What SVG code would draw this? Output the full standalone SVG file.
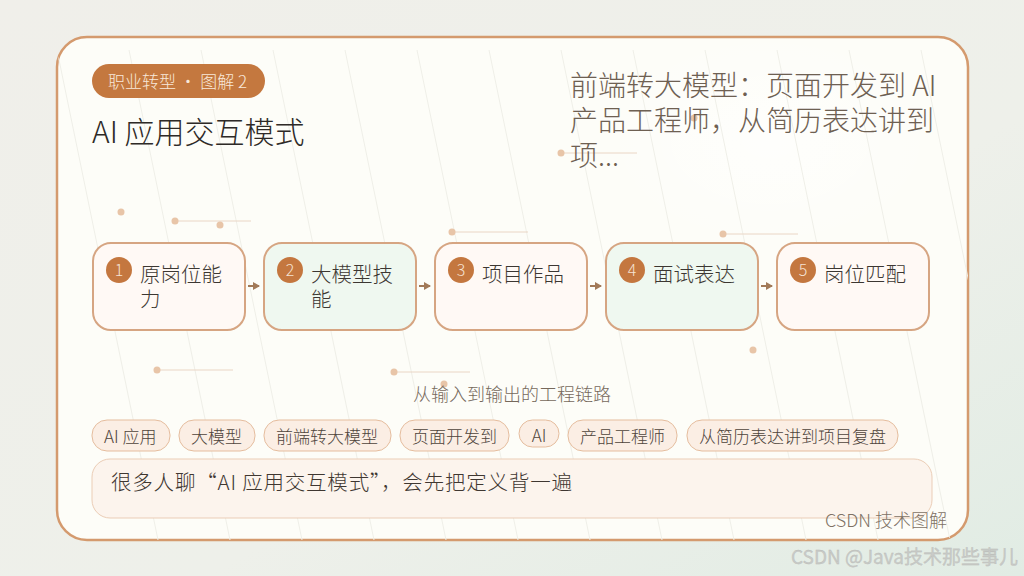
<svg xmlns="http://www.w3.org/2000/svg" width="1024" height="576" viewBox="0 0 1024 576">
<defs>
<linearGradient id="bg" x1="0" y1="0" x2="1" y2="1">
<stop offset="0" stop-color="#F0EFEA"/>
<stop offset="0.6" stop-color="#EEF0EA"/>
<stop offset="1" stop-color="#E1ECE4"/>
</linearGradient>
<radialGradient id="glow" cx="0.5" cy="0.5" r="0.5">
<stop offset="0" stop-color="#FFFFFF" stop-opacity="0.6"/>
<stop offset="1" stop-color="#FFFFFF" stop-opacity="0"/>
</radialGradient>
<clipPath id="cardclip"><rect x="57" y="37" width="911" height="503" rx="30"/></clipPath>
<marker id="arr" markerWidth="8" markerHeight="8" refX="6" refY="4" orient="auto" markerUnits="userSpaceOnUse">
<path d="M0,0 L7,4 L0,8 Z" fill="#A27A58"/>
</marker>
<style>
.cjk{font-family:"Noto Sans CJK SC","Noto Sans",sans-serif;}
.node{stroke:#D6A582;stroke-width:2;}
.warm{fill:#FFF9F5;}
.mint{fill:#EFF8F0;}
.num{fill:#C4773F;}
.numt{fill:#F6E3D3;font-size:16px;text-anchor:middle;font-weight:300;}
.lab{fill:#3C3732;font-size:20.5px;font-weight:300;}
.tag{fill:#FBEEE4;stroke:#E5BD9E;stroke-width:1;}
.tagt{fill:#4E443B;font-size:17px;font-weight:300;}
.dot{fill:#E8C5A8;}
.dl{stroke:#EAD6C5;stroke-width:1;}
.stripe{stroke:#EFEFE8;stroke-width:1;}
.conn{stroke:#A27A58;stroke-width:2;fill:none;}
</style>
</defs>
<rect width="1024" height="576" fill="url(#bg)"/>
<rect x="57" y="37" width="911" height="503" rx="30" fill="#FDFDF8" stroke="#D49A6E" stroke-width="2.5"/>
<g clip-path="url(#cardclip)">
<ellipse cx="770" cy="140" rx="170" ry="110" fill="url(#glow)"/>
<g class="stripe">
<line x1="129" y1="50" x2="230" y2="540"/>
<line x1="201" y1="50" x2="302" y2="540"/>
<line x1="273" y1="50" x2="374" y2="540"/>
<line x1="345" y1="50" x2="446" y2="540"/>
<line x1="417" y1="50" x2="518" y2="540"/>
<line x1="489" y1="50" x2="590" y2="540"/>
<line x1="561" y1="50" x2="662" y2="540"/>
<line x1="633" y1="50" x2="734" y2="540"/>
<line x1="705" y1="50" x2="806" y2="540"/>
<line x1="777" y1="50" x2="878" y2="540"/>
<line x1="849" y1="50" x2="950" y2="540"/>
<line x1="921" y1="50" x2="1022" y2="540"/>
<line x1="57" y1="50" x2="158" y2="540"/>
</g>
</g>
<g id="decor">
<circle class="dot" cx="121" cy="212" r="3.5"/>
<line class="dl" x1="175" y1="221" x2="251" y2="221"/>
<circle class="dot" cx="175" cy="221" r="3.5"/>
<circle class="dot" cx="220" cy="225" r="3.5"/>
<line class="dl" x1="452" y1="232" x2="528" y2="232"/>
<circle class="dot" cx="452" cy="232" r="3.5"/>
<line class="dl" x1="561" y1="153" x2="637" y2="153"/>
<circle class="dot" cx="561" cy="153" r="3.5"/>
<circle class="dot" cx="694" cy="118" r="3.5"/>
<line class="dl" x1="723" y1="234" x2="798" y2="234"/>
<circle class="dot" cx="723" cy="234" r="3.5"/>
<circle class="dot" cx="753" cy="350" r="3.5"/>
<line class="dl" x1="157" y1="370" x2="233" y2="370"/>
<circle class="dot" cx="157" cy="370" r="3.5"/>
<line class="dl" x1="394" y1="372" x2="470" y2="372"/>
<circle class="dot" cx="394" cy="372" r="3.5"/>
<circle class="dot" cx="444" cy="384" r="3.5"/>
</g>
<g id="badge">
<rect x="92" y="64" width="173" height="34" rx="17" fill="#C4783F"/>
<text class="cjk" x="108" y="88" font-size="17" fill="#F8E8DA" font-weight="300" textLength="139" lengthAdjust="spacing">职业转型 · 图解 2</text>
</g>
<text id="title" class="cjk" x="92" y="143" font-size="30" fill="#2E2A27" font-weight="300">AI 应用交互模式</text>
<g id="subtitle-right" class="cjk" font-size="28" fill="#6E6052" font-weight="300">
<text x="570" y="96">前端转大模型：页面开发到 AI</text>
<text x="570" y="131">产品工程师，从简历表达讲到</text>
<text x="570" y="166">项...</text>
</g>
<g id="connectors">
<line class="conn" x1="248" y1="286" x2="259" y2="286" marker-end="url(#arr)"/>
<line class="conn" x1="419" y1="286" x2="430" y2="286" marker-end="url(#arr)"/>
<line class="conn" x1="590" y1="286" x2="601" y2="286" marker-end="url(#arr)"/>
<line class="conn" x1="761" y1="286" x2="772" y2="286" marker-end="url(#arr)"/>
</g>
<g id="node1">
<rect class="node warm" x="93" y="243" width="152" height="87" rx="18"/>
<circle class="num" cx="119" cy="270" r="13"/>
<text class="cjk numt" x="119" y="276">1</text>
<text class="cjk lab" x="140" y="282">原岗位能</text>
<text class="cjk lab" x="140" y="307">力</text>
</g>
<g id="node2">
<rect class="node mint" x="264" y="243" width="152" height="87" rx="18"/>
<circle class="num" cx="290" cy="270" r="13"/>
<text class="cjk numt" x="290" y="276">2</text>
<text class="cjk lab" x="311" y="282">大模型技</text>
<text class="cjk lab" x="311" y="307">能</text>
</g>
<g id="node3">
<rect class="node warm" x="435" y="243" width="152" height="87" rx="18"/>
<circle class="num" cx="461" cy="270" r="13"/>
<text class="cjk numt" x="461" y="276">3</text>
<text class="cjk lab" x="482" y="282">项目作品</text>
</g>
<g id="node4">
<rect class="node mint" x="606" y="243" width="152" height="87" rx="18"/>
<circle class="num" cx="632" cy="270" r="13"/>
<text class="cjk numt" x="632" y="276">4</text>
<text class="cjk lab" x="653" y="282">面试表达</text>
</g>
<g id="node5">
<rect class="node warm" x="777" y="243" width="152" height="87" rx="18"/>
<circle class="num" cx="803" cy="270" r="13"/>
<text class="cjk numt" x="803" y="276">5</text>
<text class="cjk lab" x="824" y="282">岗位匹配</text>
</g>
<text id="caption" class="cjk" x="512" y="401" font-size="18" fill="#76695C" text-anchor="middle" font-weight="300">从输入到输出的工程链路</text>
<g id="tags">
<rect class="tag" x="92" y="420" width="78" height="31" rx="15"/>
<text class="cjk tagt" x="104" y="443">AI 应用</text>
<rect class="tag" x="179" y="420" width="76" height="31" rx="15"/>
<text class="cjk tagt" x="191" y="443">大模型</text>
<rect class="tag" x="264" y="420" width="127" height="31" rx="15"/>
<text class="cjk tagt" x="276" y="443">前端转大模型</text>
<rect class="tag" x="400" y="420" width="109" height="31" rx="15"/>
<text class="cjk tagt" x="412" y="443">页面开发到</text>
<rect class="tag" x="519" y="420" width="40" height="27" rx="13.5"/>
<text class="cjk tagt" x="539" y="442" text-anchor="middle">AI</text>
<rect class="tag" x="568" y="420" width="109" height="31" rx="15"/>
<text class="cjk tagt" x="580" y="443">产品工程师</text>
<rect class="tag" x="687" y="420" width="211" height="31" rx="15"/>
<text class="cjk tagt" x="699" y="443">从简历表达讲到项目复盘</text>
</g>
<g id="note">
<rect x="92" y="459" width="840" height="59" rx="18" fill="#FCF4ED" stroke="#EBCDB6" stroke-width="1"/>
<text class="cjk" x="111" y="490" font-size="20.5" fill="#3F3731" font-weight="300" textLength="461" lengthAdjust="spacing">很多人聊“AI 应用交互模式”，会先把定义背一遍</text>
</g>
<text id="footer" class="cjk" x="947" y="527" font-size="18" fill="#7F7265" text-anchor="end" font-weight="300">CSDN 技术图解</text>
<text id="watermark" class="cjk" x="1018" y="564" font-size="19" fill="#C9CBC8" text-anchor="end" stroke="#B8BAB6" stroke-width="0.3">CSDN @Java技术那些事儿</text>
</svg>
